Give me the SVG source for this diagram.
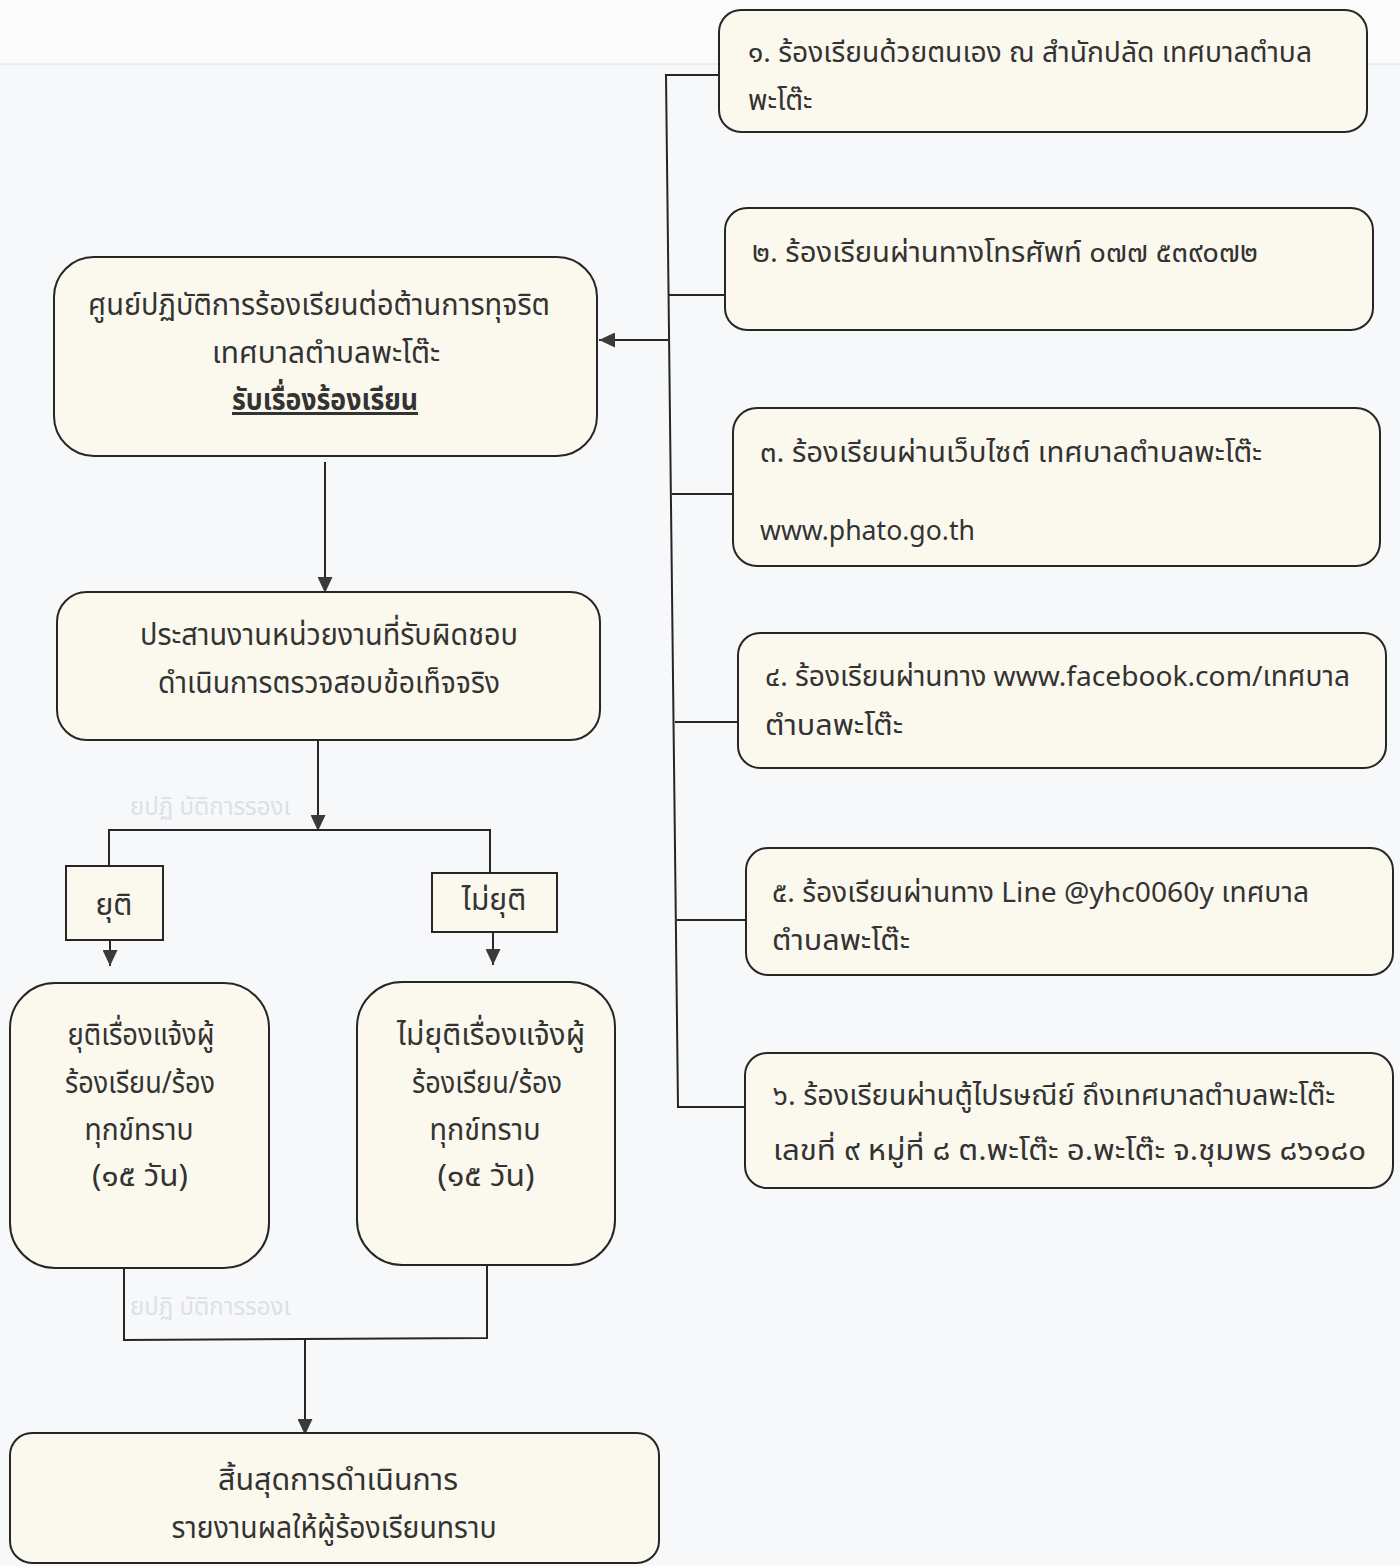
<svg xmlns="http://www.w3.org/2000/svg" width="1400" height="1566" viewBox="0 0 1400 1566">
<defs>
<marker id="ah" viewBox="0 0 10 10" refX="10" refY="5" markerWidth="16" markerHeight="15" markerUnits="userSpaceOnUse" orient="auto" preserveAspectRatio="none">
<path d="M0,0 L10,5 L0,10 z" fill="#3a3a3a"/>
</marker>
<style>
.bx{fill:#fbf9ee;stroke:#262626;stroke-width:2}
.ln{fill:none;stroke:#262626;stroke-width:2}
.t{font-family:"Noto Sans Thai","Noto Sans","DejaVu Sans",sans-serif;font-size:28px;fill:#333}
.l{font-size:30px}
.c{text-anchor:middle}
.ghost{font-family:"Noto Sans Thai","Noto Sans",sans-serif;font-size:24px;fill:#dde0e6}
</style>
</defs>
<rect width="1400" height="1566" fill="#f6f8fa"/>
<rect width="1400" height="64" fill="#fbfbfb"/>
<line x1="0" y1="64" x2="1400" y2="64" stroke="#e6e8ec" stroke-width="1.5"/>

<text class="ghost" x="130" y="815">ยปฏิ บัติการรองเ</text>
<text class="ghost" x="130" y="1315">ยปฏิ บัติการรองเ</text>

<g id="connectors">
<polyline class="ln" points="719,75 666,75 678,1107 745,1107"/>
<line class="ln" x1="668" y1="295" x2="725" y2="295"/>
<line class="ln" x1="672" y1="494" x2="733" y2="494"/>
<line class="ln" x1="675" y1="722" x2="738" y2="722"/>
<line class="ln" x1="677" y1="920" x2="746" y2="920"/>
<line class="ln" x1="668" y1="340" x2="599" y2="340" marker-end="url(#ah)"/>
<line class="ln" x1="325" y1="462" x2="325" y2="593" marker-end="url(#ah)"/>
<line class="ln" x1="318" y1="740" x2="318" y2="831" marker-end="url(#ah)"/>
<polyline class="ln" points="109,866 109,830 490,830 490,873"/>
<line class="ln" x1="110" y1="940" x2="110" y2="966" marker-end="url(#ah)"/>
<line class="ln" x1="493" y1="932" x2="493" y2="965" marker-end="url(#ah)"/>
<polyline class="ln" points="124,1268 124,1340 487,1338 487,1265"/>
<line class="ln" x1="305" y1="1338" x2="305" y2="1435" marker-end="url(#ah)"/>
</g>

<g id="n1">
<rect class="bx" x="719" y="10" width="648" height="122" rx="22"/>
<text class="t" x="748" y="62" textLength="564" lengthAdjust="spacingAndGlyphs">๑. ร้องเรียนด้วยตนเอง ณ สำนักปลัด เทศบาลตำบล</text>
<text class="t" x="748" y="110">พะโต๊ะ</text>
</g>
<g id="n2">
<rect class="bx" x="725" y="208" width="648" height="122" rx="22"/>
<text class="t" x="752" y="262" textLength="506" lengthAdjust="spacingAndGlyphs">๒. ร้องเรียนผ่านทางโทรศัพท์ ๐๗๗ ๕๓๙๐๗๒</text>
</g>
<g id="n3">
<rect class="bx" x="733" y="408" width="647" height="158" rx="24"/>
<text class="t" x="760" y="462" textLength="502" lengthAdjust="spacingAndGlyphs">๓. ร้องเรียนผ่านเว็บไซต์ เทศบาลตำบลพะโต๊ะ</text>
<text class="t" x="760" y="540" textLength="215" lengthAdjust="spacingAndGlyphs">www.phato.go.th</text>
</g>
<g id="n4">
<rect class="bx" x="738" y="633" width="648" height="135" rx="22"/>
<text class="t" x="765" y="686" textLength="585" lengthAdjust="spacingAndGlyphs">๔. ร้องเรียนผ่านทาง www.facebook.com/เทศบาล</text>
<text class="t" x="765" y="735" textLength="138" lengthAdjust="spacingAndGlyphs">ตำบลพะโต๊ะ</text>
</g>
<g id="n5">
<rect class="bx" x="746" y="848" width="647" height="127" rx="22"/>
<text class="t" x="772" y="902" textLength="537" lengthAdjust="spacingAndGlyphs">๕. ร้องเรียนผ่านทาง Line @yhc0060y เทศบาล</text>
<text class="t" x="772" y="950" textLength="138" lengthAdjust="spacingAndGlyphs">ตำบลพะโต๊ะ</text>
</g>
<g id="n6">
<rect class="bx" x="745" y="1053" width="648" height="135" rx="22"/>
<text class="t" x="773" y="1105" textLength="562" lengthAdjust="spacingAndGlyphs">๖. ร้องเรียนผ่านตู้ไปรษณีย์ ถึงเทศบาลตำบลพะโต๊ะ</text>
<text class="t" x="773" y="1160" textLength="593" lengthAdjust="spacingAndGlyphs">เลขที่ ๙ หมู่ที่ ๘ ต.พะโต๊ะ อ.พะโต๊ะ จ.ชุมพร ๘๖๑๘๐</text>
</g>

<g id="center">
<rect class="bx" x="54" y="257" width="543" height="199" rx="40"/>
<text class="t l c" x="319" y="315" textLength="462" lengthAdjust="spacingAndGlyphs">ศูนย์ปฏิบัติการร้องเรียนต่อต้านการทุจริต</text>
<text class="t l c" x="326" y="363" textLength="228" lengthAdjust="spacingAndGlyphs">เทศบาลตำบลพะโต๊ะ</text>
<text class="t l c" x="325" y="410" font-weight="bold" text-decoration="underline" textLength="186" lengthAdjust="spacingAndGlyphs">รับเรื่องร้องเรียน</text>
</g>
<g id="coord">
<rect class="bx" x="57" y="592" width="543" height="148" rx="30"/>
<text class="t l c" x="329" y="645" textLength="378" lengthAdjust="spacingAndGlyphs">ประสานงานหน่วยงานที่รับผิดชอบ</text>
<text class="t l c" x="329" y="693" textLength="342" lengthAdjust="spacingAndGlyphs">ดำเนินการตรวจสอบข้อเท็จจริง</text>
</g>
<g id="yuti">
<rect class="bx" x="66" y="866" width="97" height="74"/>
<text class="t l c" x="114" y="915">ยุติ</text>
</g>
<g id="maiyuti">
<rect class="bx" x="432" y="873" width="125" height="59"/>
<text class="t l c" x="494" y="910">ไม่ยุติ</text>
</g>
<g id="yuti-notify">
<rect class="bx" x="10" y="983" width="259" height="285" rx="45"/>
<text class="t l c" x="141" y="1045" textLength="147" lengthAdjust="spacingAndGlyphs">ยุติเรื่องแจ้งผู้</text>
<text class="t l c" x="140" y="1093" textLength="150" lengthAdjust="spacingAndGlyphs">ร้องเรียน/ร้อง</text>
<text class="t l c" x="139" y="1140" textLength="109" lengthAdjust="spacingAndGlyphs">ทุกข์ทราบ</text>
<text class="t l c" x="140" y="1186" textLength="96" lengthAdjust="spacingAndGlyphs">(๑๕ วัน)</text>
</g>
<g id="maiyuti-notify">
<rect class="bx" x="357" y="982" width="258" height="283" rx="45"/>
<text class="t l c" x="491" y="1045" textLength="188" lengthAdjust="spacingAndGlyphs">ไม่ยุติเรื่องแจ้งผู้</text>
<text class="t l c" x="487" y="1093" textLength="150" lengthAdjust="spacingAndGlyphs">ร้องเรียน/ร้อง</text>
<text class="t l c" x="485" y="1140" textLength="111" lengthAdjust="spacingAndGlyphs">ทุกข์ทราบ</text>
<text class="t l c" x="486" y="1186" textLength="97" lengthAdjust="spacingAndGlyphs">(๑๕ วัน)</text>
</g>
<g id="end">
<rect class="bx" x="10" y="1433" width="649" height="130" rx="22"/>
<text class="t l c" x="338" y="1490" textLength="240" lengthAdjust="spacingAndGlyphs">สิ้นสุดการดำเนินการ</text>
<text class="t l c" x="334" y="1538" textLength="325" lengthAdjust="spacingAndGlyphs">รายงานผลให้ผู้ร้องเรียนทราบ</text>
</g>
</svg>
